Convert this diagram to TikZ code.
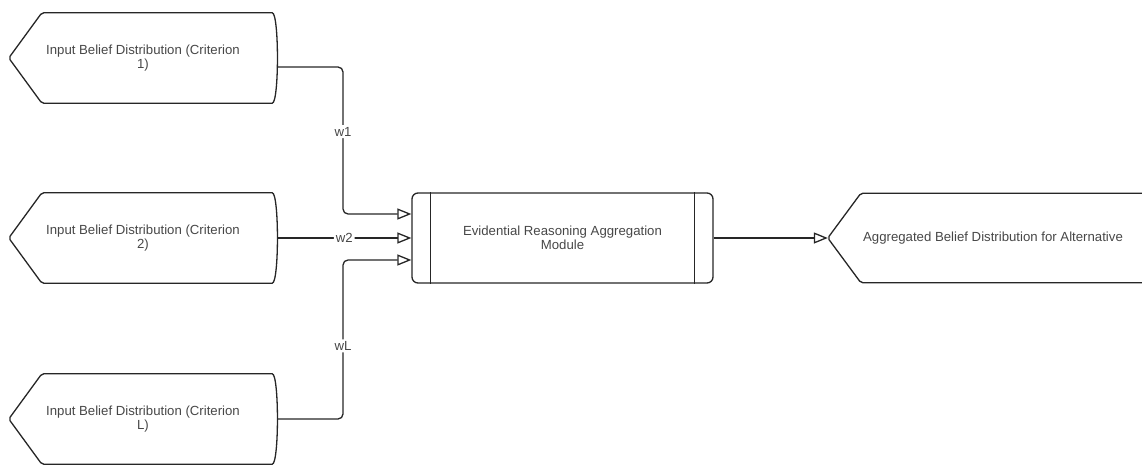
\documentclass[tikz,border=0pt]{standalone}
\usepackage{fontspec}
\setmainfont{Liberation Sans}
\usetikzlibrary{arrows.meta}

\begin{document}
\begin{tikzpicture}[x=1pt,y=-1pt,
  every node/.style={font=\fontsize{13.2}{14}\selectfont, text=black!72},
  beliefin/.style={minimum width=268pt, minimum height=90pt, inner sep=0pt, align=center},
  aggout/.style={minimum width=330pt, minimum height=89pt, inner sep=0pt, align=center},
  ermbox/.style={draw=black!85, line width=1.3pt, rounded corners=6pt, minimum width=301pt, minimum height=90pt, align=center},
  outline/.style={draw=black!85, line width=1.3pt, rounded corners=2pt},
  flow/.style={draw=black!85, line width=1.3pt, rounded corners=5pt, -{Triangle[open,length=14pt,width=11pt]}},
  wlab/.style={fill=white, inner sep=2pt}]
  \clip (0,0) rectangle (1142,465);

  \node[beliefin] (crit1) at (143,58) {Input Belief Distribution (Criterion\\1)};
  \node[beliefin] (crit2) at (143,238) {Input Belief Distribution (Criterion\\2)};
  \node[beliefin] (critL) at (143,419) {Input Belief Distribution (Criterion\\L)};
  \node[ermbox] (erm) at (562.5,238) {Evidential Reasoning Aggregation\\Module};
  \node[aggout] (agg) at (993,238) {Aggregated Belief Distribution for Alternative};
  \coordinate (join) at (343,238);

  % outlines of the input shapes
  \foreach \n in {crit1,crit2,critL}
    \draw[outline] (\n.west) -- ([xshift=33pt]\n.north west) -- ([xshift=-7pt]\n.north east)
      .. controls ([xshift=2pt]\n.north east) and ([xshift=2pt]\n.south east) .. ([xshift=-7pt]\n.south east)
      -- ([xshift=33pt]\n.south west) -- cycle;
  \draw[outline] (agg.west) -- ([xshift=33pt]agg.north west) -- (agg.north east)
    -- (agg.south east) -- ([xshift=33pt]agg.south west) -- cycle;
  \draw[line width=1.3pt, black!85] ([xshift=19pt]erm.north west) -- ([xshift=19pt]erm.south west);
  \draw[line width=1.3pt, black!85] ([xshift=-19pt]erm.north east) -- ([xshift=-19pt]erm.south east);

  % weighted inputs
  \draw[flow] ([yshift=-9pt]crit1.east) -| ([yshift=24pt]join) node[wlab,pos=0.72] {w1} -- ([yshift=24pt]erm.west);
  \draw[flow] (crit2.east) -- node[wlab] {w2} (erm.west);
  \draw[flow] (critL.east) -| ([yshift=-22pt]join) node[wlab,pos=0.73] {wL} -- ([yshift=-22pt]erm.west);
  \draw[flow] (erm.east) -- (agg.west);
\end{tikzpicture}
\end{document}
